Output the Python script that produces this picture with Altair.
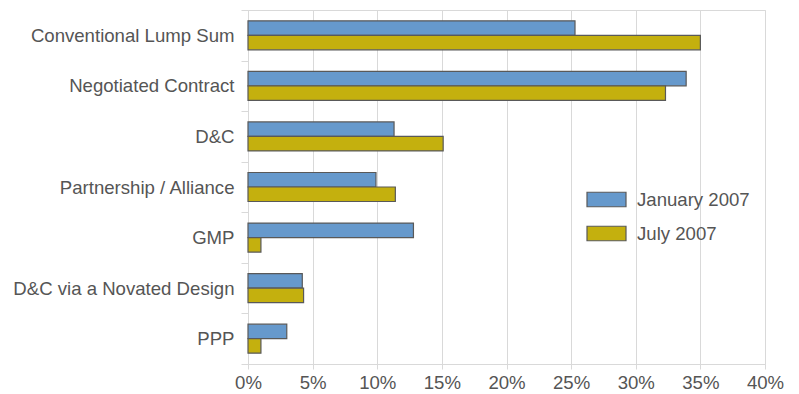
import altair as alt
import pandas as pd

# Share of projects by procurement method, two survey rounds
categories = [
    "Conventional Lump Sum",
    "Negotiated Contract",
    "D&C",
    "Partnership / Alliance",
    "GMP",
    "D&C via a Novated Design",
    "PPP",
]
series_names = ["January 2007", "July 2007"]
jan_2007 = [25.3, 33.9, 11.3, 9.9, 12.8, 4.2, 3.0]
jul_2007 = [35.0, 32.3, 15.1, 11.4, 1.0, 4.3, 1.0]
x_ticks = [0, 5, 10, 15, 20, 25, 30, 35, 40]
bar_colors = ["#6699cc", "#c4b00e"]

rows = []
for cat, a, b in zip(categories, jan_2007, jul_2007):
    rows.append({"category": cat, "series": series_names[0], "value": a})
    rows.append({"category": cat, "series": series_names[1], "value": b})
df = pd.DataFrame(rows)

FONT = "Arial, Liberation Sans, sans-serif"
FS = 18.6
TEXT = "#555555"
LINE = "#d9d9d9"

bars = alt.Chart(df).mark_bar(stroke="#595959", strokeWidth=1.2).encode(
    x=alt.X(
        "value:Q",
        title=None,
        scale=alt.Scale(domain=[0, 40], nice=False),
        axis=alt.Axis(
            values=x_ticks,
            labelExpr="datum.value + '%'",
            labelFlush=False,
            labelOverlap=False,
            grid=True,
            gridColor=LINE,
            domainColor=LINE,
            tickColor=LINE,
            tickSize=5,
            labelPadding=4,
            labelFontSize=FS,
            labelColor=TEXT,
            labelFont=FONT,
        ),
    ),
    y=alt.Y(
        "category:N",
        title=None,
        sort=categories,
        scale=alt.Scale(paddingInner=0, paddingOuter=0),
        axis=alt.Axis(
            tickBand="extent",
            grid=False,
            domainColor=LINE,
            tickColor=LINE,
            tickSize=7,
            labelPadding=7,
            labelLimit=300,
            labelFontSize=FS,
            labelColor=TEXT,
            labelFont=FONT,
        ),
    ),
    yOffset=alt.YOffset(
        "series:N",
        sort=series_names,
        scale=alt.Scale(paddingInner=0, paddingOuter=0.745),
    ),
    color=alt.Color(
        "series:N",
        sort=series_names,
        scale=alt.Scale(domain=series_names, range=bar_colors),
        legend=alt.Legend(
            title=None,
            orient="none",
            legendX=338,
            legendY=169,
            padding=0,
            symbolType="M-1,-0.372L1,-0.372L1,0.372L-1,0.372Z",
            symbolSize=1521,
            symbolStrokeColor="#595959",
            symbolStrokeWidth=1.2,
            labelFontSize=FS,
            labelColor=TEXT,
            labelFont=FONT,
            labelOffset=10,
            labelLimit=300,
            rowPadding=3,
        ),
    ),
)

chart = bars.properties(
    width=517,
    height=354,
    autosize=alt.AutoSizeParams(type="none"),
    padding={"left": 248, "top": 10, "right": 34, "bottom": 30},
    background="white",
).configure_view(stroke=LINE)

chart.save("out.html", embed_options={"renderer": "svg", "actions": False})
